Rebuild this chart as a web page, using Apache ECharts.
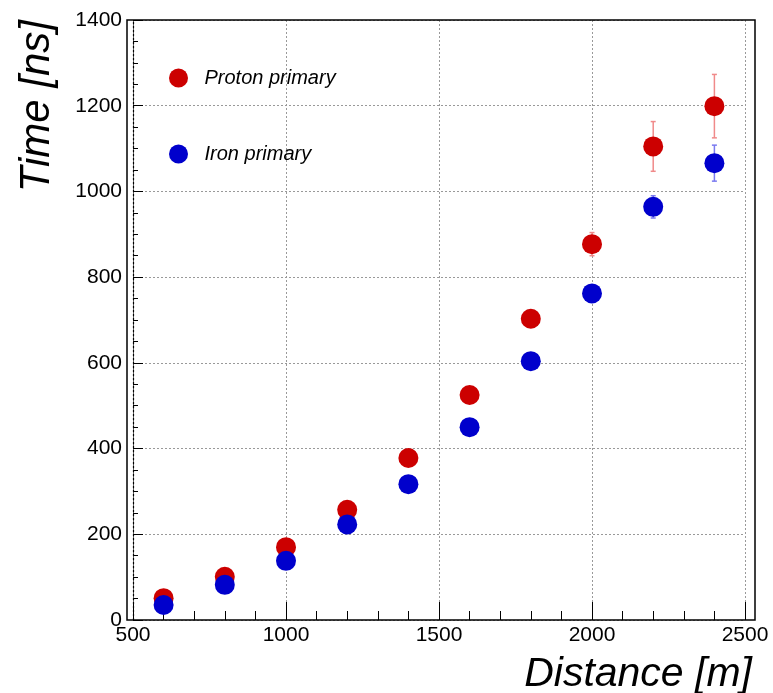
<!DOCTYPE html>
<html>
<head>
<meta charset="utf-8">
<script src="https://cdn.jsdelivr.net/npm/echarts@6/dist/echarts.min.js"></script>
<style>
html,body{margin:0;padding:0;background:#fff;}
#chart{width:773px;height:693px;}
</style>
</head>
<body>
<div id="chart"></div>
<script>
// ---- data ----
var distances = [600, 800, 1000, 1200, 1400, 1600, 1800, 2000, 2200, 2400];
var protonTime = [51, 101, 170, 257, 378, 525, 703, 877, 1105, 1199];
var protonErr  = [3, 4, 5, 6, 8, 10, 14, 27, 58, 74];
var ironTime   = [35, 82, 138, 223, 317, 450, 604, 762, 964, 1066];
var ironErr    = [2, 3, 4, 5, 7, 9, 12, 16, 26, 42];
var seriesNames = ['Proton primary', 'Iron primary'];
var xTitle = 'Distance [m]';
var yTitle = 'Time [ns]';

var FONT = "'Liberation Sans', Arial, Helvetica, sans-serif";
var RED = '#cc0000', BLUE = '#0000cc';

function pairs(xs, ys) { return xs.map(function (x, i) { return [x, ys[i]]; }); }
function errData(xs, ys, es) { return xs.map(function (x, i) { return [x, ys[i], es[i]]; }); }
function plain(v) { return String(v); }

function errRender(color) {
  return function (params, api) {
    var x = api.value(0), y = api.value(1), e = api.value(2);
    var lo = api.coord([x, y - e]);
    var hi = api.coord([x, y + e]);
    var cap = 2.5;
    var st = { stroke: color, lineWidth: 1.5 };
    return {
      type: 'group',
      children: [
        { type: 'line', shape: { x1: lo[0], y1: lo[1], x2: hi[0], y2: hi[1] }, style: st },
        { type: 'line', shape: { x1: lo[0] - cap, y1: lo[1], x2: lo[0] + cap, y2: lo[1] }, style: st },
        { type: 'line', shape: { x1: hi[0] - cap, y1: hi[1], x2: hi[0] + cap, y2: hi[1] }, style: st }
      ]
    };
  };
}

var chart = echarts.init(document.getElementById('chart'), null, { renderer: 'canvas' });
chart.setOption({
  animation: false,
  backgroundColor: '#ffffff',
  grid: [
    { left: 127, right: 18, top: 20, bottom: 73, show: true, borderColor: '#000', borderWidth: 1.5, backgroundColor: 'transparent', z: 5 },
    { left: 133, right: 28, top: 20, bottom: 73 }
  ],
  xAxis: [
    { gridIndex: 0, type: 'value', min: 0, max: 1, show: false },
    {
      gridIndex: 1, type: 'value', min: 500, max: 2500, interval: 500,
      axisLine: { show: false },
      axisTick: { show: true, inside: true, length: 18, lineStyle: { color: '#000', width: 1 } },
      minorTick: { show: true, splitNumber: 5, length: 9, lineStyle: { color: '#000', width: 1 } },
      axisLabel: { show: true, fontSize: 21, fontFamily: FONT, color: '#000', margin: 5, formatter: plain },
      splitLine: { show: true, lineStyle: { color: '#999', type: [2, 2], width: 1 } }
    }
  ],
  yAxis: [
    { gridIndex: 0, type: 'value', min: 0, max: 1, show: false },
    {
      gridIndex: 1, type: 'value', min: 0, max: 1400, interval: 200,
      axisLine: { show: true, lineStyle: { color: '#000', type: [2, 2], width: 1.2 } },
      axisTick: { show: true, inside: true, length: 10, lineStyle: { color: '#000', width: 1 } },
      minorTick: { show: true, splitNumber: 4, length: 5, lineStyle: { color: '#000', width: 1 } },
      axisLabel: { show: true, fontSize: 21, fontFamily: FONT, color: '#000', margin: 11, formatter: plain },
      splitLine: { show: true, lineStyle: { color: '#999', type: [2, 2], width: 1 } }
    }
  ],
  legend: {
    orient: 'vertical',
    left: 164,
    top: 63,
    itemGap: 56,
    itemWidth: 42,
    itemHeight: 19,
    icon: 'circle',
    data: seriesNames,
    textStyle: { fontSize: 20, fontStyle: 'italic', fontFamily: FONT, color: '#000', lineHeight: 20 }
  },
  graphic: [
    {
      type: 'text', x: 37, y: 20, rotation: Math.PI / 2,
      style: { text: yTitle, font: 'italic 42px ' + FONT, fill: '#000', textAlign: 'right', textVerticalAlign: 'middle' }
    },
    {
      type: 'text', x: 752, y: 675,
      style: { text: xTitle, font: 'italic 41px ' + FONT, fill: '#000', textAlign: 'right', textVerticalAlign: 'middle' }
    }
  ],
  series: [
    {
      type: 'custom', xAxisIndex: 1, yAxisIndex: 1, z: 2,
      renderItem: errRender('#f08a8a'),
      data: errData(distances, protonTime, protonErr),
      silent: true
    },
    {
      type: 'custom', xAxisIndex: 1, yAxisIndex: 1, z: 2,
      renderItem: errRender('#7a7af0'),
      data: errData(distances, ironTime, ironErr),
      silent: true
    },
    {
      name: seriesNames[0], type: 'scatter', xAxisIndex: 1, yAxisIndex: 1, z: 3,
      symbol: 'circle', symbolSize: 20,
      itemStyle: { color: RED, opacity: 1 },
      data: pairs(distances, protonTime)
    },
    {
      name: seriesNames[1], type: 'scatter', xAxisIndex: 1, yAxisIndex: 1, z: 4,
      symbol: 'circle', symbolSize: 20,
      itemStyle: { color: BLUE, opacity: 1 },
      data: pairs(distances, ironTime)
    }
  ]
});
</script>
</body>
</html>
